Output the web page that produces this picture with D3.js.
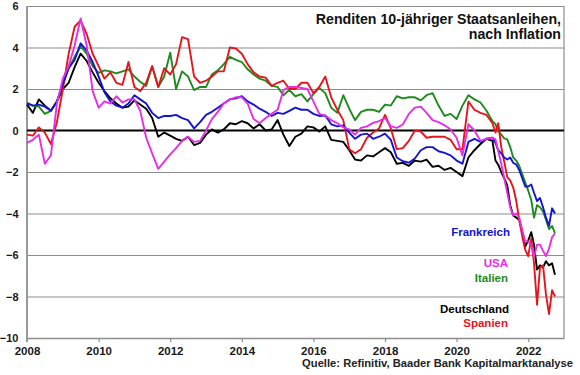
<!DOCTYPE html>
<html>
<head>
<meta charset="utf-8">
<script src="https://cdn.jsdelivr.net/npm/d3@7"></script>
<style>
  body { margin: 0; background: #fff; }
  svg text { font-family: Arial, "Liberation Sans", sans-serif; font-weight: bold; }
</style>
</head>
<body>
<svg width="580" height="375"></svg>
<script>
// month of each observation (two-monthly until 2021, monthly afterwards)
var dates = [
  "2008-01","2008-03","2008-05","2008-07","2008-09","2008-11",
  "2009-01","2009-03","2009-05","2009-07","2009-09","2009-11",
  "2010-01","2010-03","2010-05","2010-07","2010-09","2010-11",
  "2011-01","2011-03","2011-05","2011-07","2011-09","2011-11",
  "2012-01","2012-03","2012-05","2012-07","2012-09","2012-11",
  "2013-01","2013-03","2013-05","2013-07","2013-09","2013-11",
  "2014-01","2014-03","2014-05","2014-07","2014-09","2014-11",
  "2015-01","2015-03","2015-05","2015-07","2015-09","2015-11",
  "2016-01","2016-03","2016-05","2016-07","2016-09","2016-11",
  "2017-01","2017-03","2017-05","2017-07","2017-09","2017-11",
  "2018-01","2018-03","2018-05","2018-07","2018-09","2018-11",
  "2019-01","2019-03","2019-05","2019-07","2019-09","2019-11",
  "2020-01","2020-03","2020-05","2020-07","2020-09","2020-11",
  "2021-01","2021-02","2021-03","2021-04","2021-05","2021-06","2021-07",
  "2021-08","2021-09","2021-10","2021-11","2021-12",
  "2022-01","2022-02","2022-03","2022-04","2022-05","2022-06","2022-07",
  "2022-08","2022-09","2022-10"
];

var deutschland = [
  1.25, 0.85, 1.5, 1.2, 0.95, 1.4, 2.0, 2.3, 3.05, 3.7, 3.35, 2.8, 2.3, 1.9, 1.55, 1.3, 1.1, 1.15, 1.45, 1.25, 1.05,
  0.6, -0.3, -0.1, -0.25, -0.4, -0.5, -0.3, -0.7, -0.6, -0.2, 0.05, -0.1, 0.05, 0.35, 0.3, 0.45, 0.35, 0.1, 0.3, 0.0,
  0.05, 0.5, -0.2, -0.75, -0.3, -0.15, 0.2, 0.15, -0.05, 0.2, -0.45, -0.5, -0.55, -0.95, -1.4, -1.45, -1.2, -1.25, -1.05, -0.85,
  -1.05, -1.6, -1.56, -1.7, -1.45, -1.5, -1.4, -1.75, -1.7, -1.9, -1.8, -2.0, -2.2, -1.3, -0.95, -0.65, -0.4,
  -0.5, -1.45, -1.65, -2.0, -2.3, -2.65, -3.6, -4.1, -4.2, -4.3, -4.9, -5.6,
  -5.3, -4.9, -5.5, -6.7, -6.5, -6.6, -6.3, -6.5, -6.4, -6.95
];

var frankreich = [
  1.3, 1.2, 1.25, 1.15, 0.95, 1.4, 2.25, 3.0, 3.4, 4.2, 3.85, 3.3, 2.6, 1.85, 1.4, 1.2, 1.1, 1.3, 1.7, 1.5, 1.3,
  0.85, 0.6, 0.7, 0.7, 0.75, 0.6, 0.5, 0.1, 0.4, 0.75, 0.9, 1.1, 1.3, 1.5, 1.55, 1.65, 1.4, 1.25, 1.05, 0.9,
  0.7, 0.85, 0.8, 0.95, 1.1, 1.0, 1.0, 0.8, 0.7, 0.72, 0.3, 0.2, 0.25, -0.1, -0.4, -0.2, -0.15, -0.4, -0.3, -0.15,
  -0.45, -1.3, -1.48, -1.55, -1.35, -0.95, -0.8, -0.8, -1.0, -1.08, -1.2, -1.45, -1.6, -0.55, -0.4, -0.55, -0.4,
  -0.35, -0.6, -0.95, -1.1, -1.3, -1.4, -1.3, -1.56, -1.64, -1.9, -2.3, -2.7,
  -2.7, -2.6, -3.0, -3.4, -3.25, -3.7, -4.2, -4.6, -3.75, -4.0
];

var italien = [
  1.35, 1.2, 1.15, 0.8, 0.95, 1.4, 2.2, 3.0, 3.55, 4.05, 3.7, 3.1, 2.78, 2.9, 2.85, 2.75, 2.85, 2.95, 2.6, 2.35, 2.15,
  3.1, 2.1, 2.6, 3.75, 2.0, 2.85, 2.6, 1.95, 2.1, 2.1, 2.7, 2.9, 3.2, 3.55, 3.4, 3.3, 2.95, 2.7, 2.5, 2.4,
  2.15, 2.1, 1.7, 1.95, 1.65, 1.75, 1.4, 1.75, 2.05, 1.8, 1.1, 0.85, 1.7, 1.05, 0.5, 0.9, 1.0, 1.0, 0.9, 1.25,
  1.2, 1.65, 1.55, 1.6, 1.6, 1.45, 1.7, 1.8, 1.2, 0.7, 0.8, 0.55, 1.2, 1.7, 1.5, 1.35, 0.95,
  0.45, 0.3, -0.03, -0.2, -0.38, -0.43, -0.8, -1.3, -1.45, -1.7, -2.1, -2.5,
  -2.9, -3.35, -4.2, -3.6, -3.7, -3.9, -4.3, -4.75, -4.6, -4.95
];

var spanien = [
  -0.2, -0.25, 0.15, -0.1, -0.65, 0.4, 2.0, 3.7, 5.0, 5.3, 4.65, 3.7, 3.1, 2.5, 2.8, 2.3, 2.2, 3.3, 2.1, 1.9, 2.3,
  3.1, 2.1, 3.0, 2.7, 3.2, 4.5, 4.4, 2.6, 2.3, 2.4, 2.6, 2.85, 2.85, 4.0, 3.95, 3.7, 3.2, 2.8, 2.6, 2.55,
  2.15, 2.3, 2.4, 2.0, 2.0, 2.3, 2.3, 1.8, 2.1, 2.6, 1.6, 1.0, 0.5, -0.9, -1.1, -0.9, -0.35, -0.1, 0.1, 0.75,
  0.1, -0.9, -0.85, -0.5, 0.0, -0.05, -0.35, -0.3, -0.3, -0.3, -0.45, -0.9, -0.9, 1.4, 1.0, 0.85, 0.75,
  0.35, -0.1, 0.35, -0.8, -1.5, -2.25, -2.4, -2.75, -3.4, -4.3, -5.1, -5.75,
  -6.05, -5.2, -6.4, -8.4, -6.6, -6.5, -7.9, -8.85, -7.7, -8.0
];

var usa = [
  -0.6, -0.45, -0.2, -1.6, -1.2, 1.3, 2.5, 3.1, 4.1, 5.4, 4.1, 1.9, 1.1, 1.4, 1.3, 1.65, 1.35, 1.5, 1.5, 0.95, -0.35,
  -1.1, -1.85, -1.5, -1.15, -0.85, -0.5, -0.3, -0.55, -0.5, 0.0, 0.55, 0.9, 1.3, 1.5, 1.6, 1.6, 1.3, 0.55, 0.35, 0.6,
  0.8, 1.0, 1.95, 2.1, 2.1, 2.05, 2.0, 1.4, 0.8, 0.72, 0.5, 0.35, 0.15, 0.05, -0.2, 0.13, 0.2, 0.37, 0.45, 0.6,
  0.2, 0.13, 0.29, 0.8, 1.1, 1.15, 0.85, 0.5, 0.4, 0.25, 0.05, -0.35, -1.2, 0.3, 0.0, -0.5, -0.4,
  -0.35, -0.43, -1.0, -1.6, -2.3, -3.0, -3.7, -4.1, -4.0, -4.2, -4.8, -5.35,
  -5.35, -5.5, -6.1, -5.5, -5.5, -5.8, -6.05, -5.7, -5.15, -4.95
];

var yTicks = [-10, -8, -6, -4, -2, 0, 2, 4, 6];

var series = [
  { name: "Deutschland", values: deutschland, color: "#000000", lx: 509, ly: 313 },
  { name: "Italien",     values: italien,     color: "#1e8a1e", lx: 508, ly: 282 },
  { name: "Spanien",     values: spanien,     color: "#e8141c", lx: 508, ly: 327 },
  { name: "Frankreich",  values: frankreich,  color: "#1414d2", lx: 510, ly: 236 },
  { name: "USA",         values: usa,         color: "#e62ee6", lx: 508, ly: 267 }
];

var svg = d3.select("svg");
var plotL = 27, plotR = 564, plotT = 6, plotB = 338;
var parse = d3.timeParse("%Y-%m");
var time = dates.map(parse);

var x = d3.scaleTime()
  .domain([new Date(2008, 0, 1), new Date(2023, 0, 1)])
  .range([plotL, plotR]);
var y = d3.scaleLinear().domain([-10, 6]).range([plotB, plotT]);

// horizontal grid + y labels
var gy = svg.append("g")
  .attr("transform", "translate(" + plotL + ",0)")
  .call(d3.axisLeft(y).tickValues(yTicks).tickSize(-(plotR - plotL)).tickSizeOuter(0).tickPadding(8.5));
gy.select(".domain").remove();
gy.selectAll(".tick line")
  .attr("stroke", function(d) { return d == 0 ? "none" : "#8c8c8c"; })
  .attr("stroke-width", 1.2);
gy.selectAll(".tick text")
  .attr("font-size", "11px")
  .attr("fill", "#1a1a1a");

// right border
svg.append("line")
  .attr("x1", plotR).attr("x2", plotR)
  .attr("y1", plotT).attr("y2", plotB)
  .attr("stroke", "#8c8c8c").attr("stroke-width", 1.2);

// x axis
var gx = svg.append("g")
  .attr("transform", "translate(0," + plotB + ")")
  .call(d3.axisBottom(x).ticks(d3.timeYear.every(2)).tickFormat(d3.timeFormat("%Y"))
    .tickSize(4).tickSizeOuter(0).tickPadding(5));
gx.select(".domain").attr("stroke", "#8c8c8c").attr("stroke-width", 1.5);
gx.selectAll(".tick line").attr("stroke", "#8c8c8c").attr("stroke-width", 1.2);
gx.selectAll(".tick text").attr("font-size", "11.5px").attr("fill", "#1a1a1a");

// left axis line
svg.append("line")
  .attr("x1", plotL).attr("x2", plotL)
  .attr("y1", plotT).attr("y2", plotB + 4)
  .attr("stroke", "#999").attr("stroke-width", 2);

// zero line
svg.append("line")
  .attr("x1", plotL).attr("x2", plotR)
  .attr("y1", y(0)).attr("y2", y(0))
  .attr("stroke", "#000").attr("stroke-width", 2);

var line = d3.line()
  .x(function(d, i) { return x(time[i]); })
  .y(function(d) { return y(d); });

svg.selectAll(".series")
  .data(series)
  .enter().append("path")
  .attr("class", "series")
  .attr("d", function(d) { return line(d.values); })
  .attr("fill", "none")
  .attr("stroke", function(d) { return d.color; })
  .attr("stroke-width", 1.9)
  .attr("stroke-linejoin", "round");

// series labels
svg.selectAll(".lbl")
  .data(series)
  .enter().append("text")
  .attr("class", "lbl")
  .attr("x", function(d) { return d.lx; })
  .attr("y", function(d) { return d.ly; })
  .attr("text-anchor", "end")
  .attr("font-size", "11.5px")
  .attr("fill", function(d) { return d.color; })
  .text(function(d) { return d.name; });

// title
svg.append("text")
  .attr("x", 561).attr("y", 24)
  .attr("text-anchor", "end")
  .attr("font-size", "14.2px")
  .attr("fill", "#111")
  .text("Renditen 10-jähriger Staatsanleihen,");
svg.append("text")
  .attr("x", 561).attr("y", 39)
  .attr("text-anchor", "end")
  .attr("font-size", "14.2px")
  .attr("fill", "#111")
  .text("nach Inflation");

// source
svg.append("text")
  .attr("x", 573).attr("y", 367)
  .attr("text-anchor", "end")
  .attr("font-size", "11.2px")
  .attr("fill", "#222")
  .text("Quelle: Refinitiv, Baader Bank Kapitalmarktanalyse");
</script>
</body>
</html>
